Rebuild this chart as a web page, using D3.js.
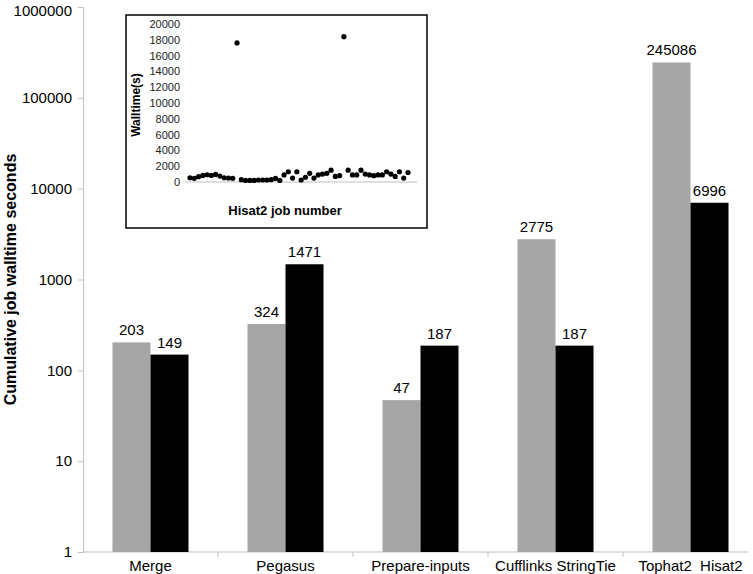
<!DOCTYPE html>
<html lang="en">
<head>
    <meta charset="UTF-8">
    <title>Cumulative job walltime</title>
    <style>
        body { margin: 0; background: #fff; }
        svg { font-family: "Liberation Sans", Arial, sans-serif; }
        .axis-main path, .axis-main line { stroke: #bfbfbf; }
        .axis-main text { font-size: 15px; fill: #000; }
        .inset-axis text { font-size: 11px; fill: #222; }
    </style>
</head>
<body>
    <script src="https://d3js.org/d3.v7.min.js"></script>
    <script>
        // main chart data
        const categories = ["Merge", "Pegasus", "Prepare-inputs", "Cufflinks StringTie", "Tophat2  Hisat2"];
        const grayValues = [203, 324, 47, 2775, 245086];
        const blackValues = [149, 1471, 187, 187, 6996];
        const yTicks = [1, 10, 100, 1000, 10000, 100000, 1000000];

        // inset: Hisat2 job walltimes (s)
        const jobTimes = [540, 460, 670, 830, 920, 830, 960, 750, 540, 500, 460,
            17600,
            300, 200, 200, 200, 250, 250, 250, 300, 450, 200,
            900, 1300, 500, 1300, 250, 600, 1100, 500, 900, 1000, 1100, 1500, 700, 800,
            18400,
            1500, 900, 900, 1500, 1000, 900, 800, 900, 900, 1300, 1000, 700, 1300, 500, 1200];
        const insetTicks = d3.range(0, 20001, 2000);

        const width = 753, height = 574;
        const svg = d3.select("body").append("svg")
            .attr("width", width)
            .attr("height", height);

        const x = d3.scaleBand()
            .domain(categories)
            .range([83, 758]);

        const y = d3.scaleLog()
            .domain([1, 1000000])
            .range([552, 7]);

        const barW = 38;

        // y axis
        const yAxis = svg.append("g")
            .attr("class", "axis-main")
            .attr("transform", "translate(83,0)")
            .call(d3.axisLeft(y).tickValues(yTicks).tickFormat(d3.format("d")).tickSize(5).tickSizeOuter(5).tickPadding(6));
        // keep the top label inside the page
        yAxis.selectAll(".tick text")
            .filter(d => d === 1000000)
            .attr("dy", "0.55em");

        // x axis line with separator ticks
        const xAxis = svg.append("g").attr("class", "axis-main");
        xAxis.append("line")
            .attr("x1", 83).attr("x2", 748)
            .attr("y1", y(1)).attr("y2", y(1));
        xAxis.selectAll(".sep")
            .data(categories.slice(1))
            .join("line")
            .attr("x1", d => x(d)).attr("x2", d => x(d))
            .attr("y1", y(1)).attr("y2", y(1) + 5);

        xAxis.selectAll(".cat")
            .data(categories)
            .join("text")
            .attr("x", d => x(d) + x.bandwidth() / 2)
            .attr("y", 571)
            .attr("text-anchor", "middle")
            .style("white-space", "pre")
            .attr("xml:space", "preserve")
            .text(d => d);

        // bars
        const groups = svg.selectAll(".grp")
            .data(categories)
            .join("g")
            .attr("transform", d => `translate(${x(d) + x.bandwidth() / 2},0)`);

        groups.append("rect")
            .attr("x", -barW)
            .attr("width", barW)
            .attr("y", (d, i) => y(grayValues[i]))
            .attr("height", (d, i) => y(1) - y(grayValues[i]))
            .attr("fill", "#a6a6a6");

        groups.append("rect")
            .attr("x", 0)
            .attr("width", barW)
            .attr("y", (d, i) => y(blackValues[i]))
            .attr("height", (d, i) => y(1) - y(blackValues[i]))
            .attr("fill", "#000");

        groups.append("text")
            .attr("x", -barW / 2)
            .attr("y", (d, i) => y(grayValues[i]) - 7)
            .attr("text-anchor", "middle")
            .attr("font-size", 15)
            .text((d, i) => grayValues[i]);

        groups.append("text")
            .attr("x", barW / 2)
            .attr("y", (d, i) => y(blackValues[i]) - 7)
            .attr("text-anchor", "middle")
            .attr("font-size", 15)
            .text((d, i) => blackValues[i]);

        // y title
        svg.append("text")
            .attr("transform", `translate(16,${(y(1) + y(1000000)) / 2}) rotate(-90)`)
            .attr("text-anchor", "middle")
            .attr("font-size", 16)
            .attr("font-weight", "bold")
            .text("Cumulative job walltime seconds");

        // inset
        const inset = svg.append("g");
        inset.append("rect")
            .attr("x", 126).attr("y", 15)
            .attr("width", 301).attr("height", 213)
            .attr("fill", "#fff")
            .attr("stroke", "#000")
            .attr("stroke-width", 1.5);

        const ix = d3.scalePoint()
            .domain(d3.range(jobTimes.length))
            .range([190, 408]);
        const iy = d3.scaleLinear()
            .domain([0, 20000])
            .range([182, 24]);

        const iyAxis = inset.append("g")
            .attr("class", "inset-axis")
            .attr("transform", "translate(185,0)")
            .call(d3.axisLeft(iy).tickValues(insetTicks).tickFormat(d3.format("d")).tickSize(0).tickPadding(5));
        iyAxis.select(".domain").remove();

        inset.append("line")
            .attr("x1", 185).attr("x2", 417)
            .attr("y1", iy(0)).attr("y2", iy(0))
            .attr("stroke", "#bfbfbf");

        inset.selectAll("circle")
            .data(jobTimes)
            .join("circle")
            .attr("cx", (d, i) => ix(i))
            .attr("cy", d => iy(d))
            .attr("r", 2.6)
            .attr("fill", "#000");

        inset.append("text")
            .attr("transform", `translate(140,${(iy(0) + iy(20000)) / 2 + 2}) rotate(-90)`)
            .attr("text-anchor", "middle")
            .attr("font-size", 12)
            .attr("font-weight", "bold")
            .text("Walltime(s)");

        inset.append("text")
            .attr("x", 285)
            .attr("y", 215)
            .attr("text-anchor", "middle")
            .attr("font-size", 13)
            .attr("font-weight", "bold")
            .text("Hisat2 job number");
    </script>
</body>
</html>
